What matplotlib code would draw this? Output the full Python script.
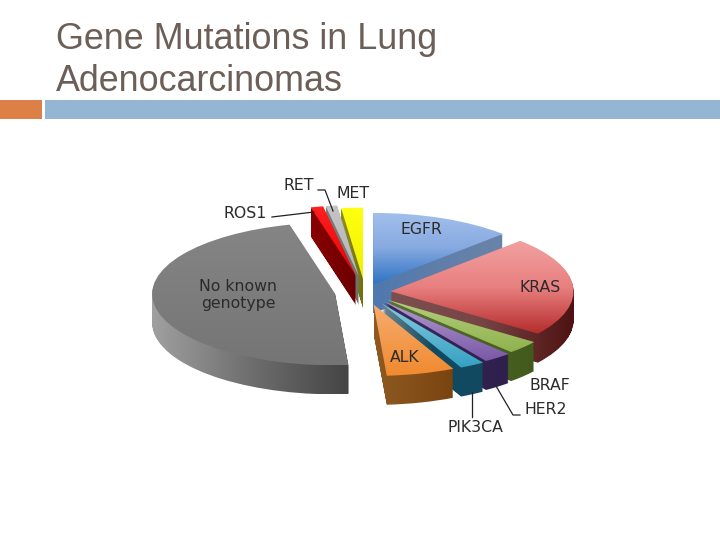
import numpy as np
import matplotlib
matplotlib.use("Agg")
import matplotlib.pyplot as plt
from matplotlib.colors import LinearSegmentedColormap as LSC
from matplotlib.path import Path
from matplotlib.patches import PathPatch, Rectangle
from matplotlib.transforms import Affine2D

genes = ["EGFR", "KRAS", "BRAF", "HER2", "PIK3CA", "ALK",
         "No known genotype", "ROS1", "RET", "MET"]
shares = [12.5, 22.5, 3.0, 2.5, 2.2, 6.0, 47.0, 1.1, 1.0, 1.9]
title_lines = ["Gene Mutations in Lung", "Adenocarcinomas"]

explode = [.115, .14, .16, .17, .18, .18, .165, .22, .22, .18]
paint_order = [9, 8, 7, 0, 6, 1, 2, 3, 4, 5]
top_cols = [["#a3c0ec", "#86a9e0", "#2f74c4"], ["#f2a0a0", "#e87f7f", "#b52c2c"],
            ["#b4cf7c", "#8fb24f"], ["#b19cd0", "#7a58a6"], ["#86cbe0", "#35a0c2"],
            ["#f7ac70", "#f08a2e"], ["#858585", "#757575"],
            ["#ff2020", "#e80000"], ["#c4c4c4", "#b4b4b4"], ["#ffff10", "#f0f000"]]
side_cols = [["#4f78b0", "#5f7ea8", "#6a84a8"], ["#7d5050", "#764444", "#4f1212"],
             ["#5a6f34", "#425a1c"], ["#3b2a5c", "#2e1f4c"], ["#6d8795", "#114a60", "#114a60"],
             ["#8e5a22", "#7a4410"], ["#a0a0a0", "#6e6e6e", "#454545"],
             ["#8a0000", "#6a0000"], ["#7a7a7a", "#707070"], ["#8f8f20", "#707010"]]

CX, CY, RX, RY, DEPTH = 365, 540 - 292, 183, 71.5, 29

fig = plt.figure(figsize=(7.2, 5.4), dpi=100, facecolor="white")
ax = fig.add_axes([0, 0, 1, 1])
wedges, _ = ax.pie(shares, explode=explode, startangle=90, counterclock=False)
squash = Affine2D().scale(RX, RY).translate(CX, CY)


def fill(path, cols, horizontal, z):
    v = path.vertices
    x0, x1, y0, y1 = v[:, 0].min(), v[:, 0].max(), v[:, 1].min(), v[:, 1].max()
    ramp = np.linspace(0, 1, 128)
    grad = ramp[None, :] if horizontal else ramp[:, None]
    im = ax.imshow(grad, cmap=LSC.from_list("c", cols), vmin=0, vmax=1, aspect="auto",
                   extent=(x0, x1, y0, y1), origin="upper", zorder=z, interpolation="bilinear")
    im.set_clip_path(PathPatch(path, transform=ax.transData))


for rank, i in enumerate(paint_order):
    w = wedges[i]
    w.set_visible(False)
    base = w.get_path().transformed(w.get_patch_transform()).transformed(squash)
    outline = Path(base.to_polygons(closed_only=False)[0])
    layers = [Path(outline.vertices - [0, k]) for k in range(1, DEPTH + 1)]
    stack = Path.make_compound_path(*layers)
    fill(stack, side_cols[i], True, 10 + 2 * rank)
    fill(outline, top_cols[i], False, 11 + 2 * rank)

ax.set_aspect("auto")
ax.set_xlim(0, 720)
ax.set_ylim(0, 540)
ax.axis("off")


def Y(p):
    return 540 - p


ax.add_patch(Rectangle((0, Y(119)), 42, 19, color="#dd8047", lw=0, zorder=2))
ax.add_patch(Rectangle((45, Y(119)), 675, 19, color="#94b6d2", lw=0, zorder=2))
for line, base_y in zip(title_lines, [49, 91]):
    ax.text(56, Y(base_y), line, family="Liberation Sans", fontsize=25.8,
            color="#6b5f58", ha="left", va="baseline", zorder=50)

lab = dict(family="DejaVu Sans", fontsize=11.3, color="#2b2b2b", ha="center", va="center", zorder=50)
spots = {"EGFR": (421, 230), "KRAS": (540, 287), "BRAF": (550, 386), "HER2": (546, 410),
         "PIK3CA": (475, 427), "ALK": (405, 358), "ROS1": (245, 213), "RET": (299, 185),
         "MET": (353, 194)}
for g in genes:
    if g in spots:
        ax.text(spots[g][0], Y(spots[g][1]), g, **lab)
ax.text(238, Y(295), "No known\ngenotype", linespacing=1.15, **lab)

leaders = [[(272, 217), (314, 212)], [(318, 190), (325, 190), (333, 211)],
           [(496, 386), (513, 415), (520, 415)], [(472, 392), (472, 417)]]
for pts in leaders:
    xs, ys = zip(*pts)
    ax.plot(xs, [Y(p) for p in ys], color="#222222", lw=0.9, zorder=49)

fig.savefig("out.png", dpi=100)
